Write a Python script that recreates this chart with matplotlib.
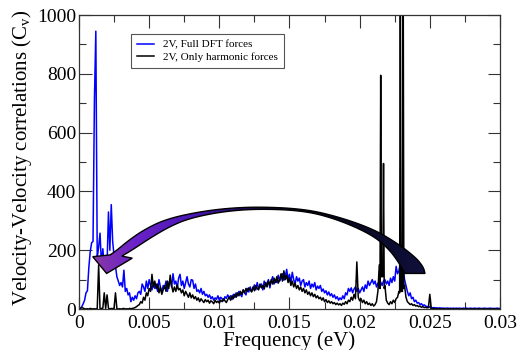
import numpy as np
import matplotlib
matplotlib.use('Agg')
import matplotlib.pyplot as plt
from matplotlib.ticker import MultipleLocator, FuncFormatter
from matplotlib.patches import Polygon
from matplotlib.colors import LinearSegmentedColormap

plt.rcParams['font.family'] = ['Liberation Serif', 'DejaVu Serif']
plt.rcParams['mathtext.fontset'] = 'custom'
plt.rcParams['mathtext.rm'] = 'Liberation Serif'
plt.rcParams['mathtext.it'] = 'Liberation Serif:italic'

# frequency grid, 0 .. 0.03 eV in steps of 1e-4
freq = np.arange(301) * 1e-4

# 2V, Full DFT forces
full_dft = [
    0, 2, 8, 18, 30, 55, 62, 140, 195, 225,
    230, 710, 945, 175, 210, 258, 150, 205, 140, 165,
    150, 330, 200, 355, 230, 180, 144, 110, 95, 80,
    90, 75, 132, 60, 70, 48, 55, 25, 40, 30,
    45, 35, 55, 60, 50, 85, 75, 60, 95, 70,
    100, 80, 65, 90, 70, 85, 60, 100, 75, 55,
    80, 70, 95, 60, 85, 100, 75, 120, 85, 95,
    70, 105, 118, 80, 95, 70, 90, 110, 85, 75,
    100, 98, 70, 85, 60, 65, 55, 70, 50, 60,
    45, 50, 40, 48, 35, 42, 30, 38, 33, 45,
    30, 40, 35, 28, 42, 36, 48, 38, 45, 32,
    50, 40, 55, 45, 60, 50, 42, 65, 55, 48,
    70, 58, 75, 60, 68, 82, 65, 90, 70, 75,
    85, 65, 95, 78, 88, 100, 72, 95, 110, 85,
    100, 90, 115, 95, 105, 120, 98, 110, 135, 100,
    118, 90, 125, 100, 85, 110, 95, 105, 80, 95,
    100, 75, 90, 80, 95, 70, 85, 75, 90, 65,
    78, 70, 80, 60, 68, 55, 62, 48, 58, 45,
    52, 40, 48, 35, 42, 30, 38, 32, 45, 35,
    55, 48, 70, 60, 72, 55, 68, 75, 60, 70,
    55, 65, 75, 60, 82, 70, 95, 80, 90, 100,
    85, 95, 75, 88, 70, 92, 80, 95, 100, 85,
    95, 80, 105, 90, 110, 95, 145, 120, 130, 155,
    125, 140, 100, 80, 60, 45, 55, 35, 40, 25,
    30, 20, 22, 15, 18, 12, 14, 10, 8, 9,
    6, 5, 4, 5, 3, 4, 3, 4, 3, 3,
    3, 2, 3, 3, 2, 3, 2, 3, 2, 3,
    2, 3, 2, 2, 3, 2, 3, 2, 2, 3,
    2, 2, 3, 2, 2, 3, 2, 2, 2, 3,
    2, 2, 2, 3, 2, 2, 2, 2, 3, 2,
    2,
]

# 2V, Only harmonic forces
harmonic = [
    0, 2, 5, 3, 1, 0, 1, 0, 2, 1,
    0, 1, 0, 2, 150, 0, 2, 3, 55, 2,
    48, 3, 0, 2, 1, 3, 55, 2, 0, 1,
    0, 1, 2, 0, 1, 0, 2, 1, 2, 3,
    5, 8, 12, 15, 25, 20, 40, 30, 55, 45,
    70, 60, 118, 75, 95, 70, 85, 55, 75, 50,
    65, 80, 60, 95, 70, 115, 80, 58, 75, 60,
    82, 65, 70, 55, 65, 45, 60, 50, 40, 55,
    38, 48, 35, 42, 30, 38, 25, 35, 28, 22,
    32, 25, 30, 20, 28, 24, 18, 30, 22, 27,
    20, 30, 25, 35, 28, 22, 32, 40, 30, 45,
    35, 50, 40, 55, 45, 60, 50, 65, 55, 70,
    60, 72, 65, 58, 75, 62, 80, 70, 65, 85,
    72, 80, 68, 90, 75, 95, 80, 100, 85, 105,
    90, 110, 88, 100, 120, 95, 130, 100, 115, 90,
    105, 80, 95, 75, 88, 70, 80, 65, 75, 60,
    70, 55, 65, 50, 58, 45, 55, 42, 50, 38,
    45, 35, 40, 30, 38, 25, 32, 22, 28, 20,
    25, 18, 22, 15, 20, 14, 18, 12, 20, 16,
    25, 18, 30, 25, 40, 30, 50, 35, 160, 40,
    28, 35, 22, 30, 18, 25, 15, 20, 12, 18,
    10, 15, 25, 60, 150, 795, 110, 495, 80, 30,
    20, 15, 25, 18, 30, 22, 35, 40, 60, 1200,
    60, 1200, 80, 40, 25, 20, 15, 18, 12, 15,
    10, 12, 8, 10, 6, 8, 5, 6, 4, 5,
    50, 3, 2, 1, 2, 1, 0, 1, 0, 1,
    0, 1, 0, 0, 1, 0, 0, 1, 0, 0,
    1, 0, 0, 1, 0, 0, 1, 0, 0, 0,
    0, 1, 0, 0, 0, 1, 0, 0, 1, 0,
    0, 0, 1, 0, 0, 0, 1, 0, 0, 0,
    0,
]

# extra samples between grid points around the sharp harmonic lines
harm_extra_freq = [0.02145, 0.02155, 0.02165, 0.02175, 0.02285, 0.02295, 0.02305, 0.02315]
harm_extra_val = [70, 110, 110, 70, 55, 60, 60, 70]

labels = ['2V, Full DFT forces', '2V, Only harmonic forces']

# curved arrow annotation (freq, C_v): outer edge, head, inner edge
arrow_outer = [
    (0.02466, 121), (0.02453, 144), (0.02394, 178), (0.02252, 229),
    (0.02086, 274), (0.01846, 314), (0.0161, 340), (0.0129, 348),
    (0.01028, 342), (0.00791, 325), (0.00601, 302), (0.00458, 268),
    (0.0035, 232), (0.0027, 200), (0.00222, 184),
]
arrow_head = [(0.00098, 178), (0.00197, 121), (0.0038, 173)]
arrow_inner = [
    (0.00305, 180), (0.0038, 201), (0.00506, 241), (0.00648, 281),
    (0.00791, 309), (0.01028, 332), (0.0129, 341), (0.0161, 334),
    (0.01846, 304), (0.02086, 253), (0.02204, 206), (0.02275, 161),
    (0.02323, 121),
]


def chaikin(pts, n=3):
    pts = np.asarray(pts, float)
    for _ in range(n):
        q = 0.75 * pts[:-1] + 0.25 * pts[1:]
        r = 0.25 * pts[:-1] + 0.75 * pts[1:]
        mid = np.empty((2 * len(q), 2))
        mid[0::2] = q
        mid[1::2] = r
        pts = np.vstack([pts[:1], mid, pts[-1:]])
    return pts


fig = plt.figure(figsize=(5.2, 3.5), dpi=100)
ax = fig.add_axes([0.1519, 0.1171, 0.8096, 0.84])

hf = np.concatenate([freq, harm_extra_freq])
hv = np.concatenate([harmonic, harm_extra_val])
order = np.argsort(hf, kind='stable')

ax.plot(freq, full_dft, color='#0000ff', lw=1.1, label=labels[0])
ax.plot(hf[order], hv[order], color='black', lw=1.1, label=labels[1])

# gradient filled arrow
outline = np.vstack([chaikin(arrow_outer), arrow_head, chaikin(arrow_inner)])
arrow = Polygon(outline, closed=True, facecolor='none',
                edgecolor='black', lw=1.0, zorder=6, joinstyle='miter')
ax.add_patch(arrow)
cmap = LinearSegmentedColormap.from_list('arr', [
    (0.0, '#8a3aa3'), (0.13, '#6b22c9'), (0.3, '#4a17b5'),
    (0.47, '#1c0a55'), (0.63, '#080418'), (0.8, '#0a0a28'), (1.0, '#10103c')])
grad = ax.imshow(np.linspace(0, 1, 256)[None, :], cmap=cmap, aspect='auto',
                 extent=[0.0008, 0.025, 110, 360], origin='lower', zorder=5)
grad.set_clip_path(arrow)

ax.set_xlim(0, 0.03)
ax.set_ylim(0, 1000)
ax.set_aspect('auto')

ax.xaxis.set_major_locator(MultipleLocator(0.005))
ax.xaxis.set_minor_locator(MultipleLocator(0.0025))
ax.yaxis.set_major_locator(MultipleLocator(200))
ax.yaxis.set_minor_locator(MultipleLocator(100))
ax.xaxis.set_major_formatter(FuncFormatter(lambda v, p: '%g' % round(v, 4)))
ax.tick_params(which='both', direction='in', top=True, right=True,
               labelsize=14, width=0.8, color='#333333')
ax.tick_params(which='major', length=9)
ax.tick_params(which='minor', length=5)
ax.tick_params(axis='y', pad=2)
ax.tick_params(axis='x', pad=4)
for s in ax.spines.values():
    s.set_linewidth(0.9)
    s.set_color('#333333')

ax.set_xlabel('Frequency (eV)', fontsize=15, labelpad=0)
ax.set_ylabel('Velocity-Velocity correlations (C$_\\mathrm{v}$)', fontsize=15, labelpad=2)
ax.yaxis.label.set_y(0.515)

leg = ax.legend(loc='upper left', bbox_to_anchor=(0.1235, 0.935), borderaxespad=0,
                fontsize=8, fancybox=False, edgecolor='#555555', framealpha=1,
                handlelength=1.6, handletextpad=0.8, borderpad=0.5, labelspacing=0.25)
leg.get_frame().set_linewidth(0.8)
leg.set_zorder(10)

fig.savefig('out.png', dpi=100)
